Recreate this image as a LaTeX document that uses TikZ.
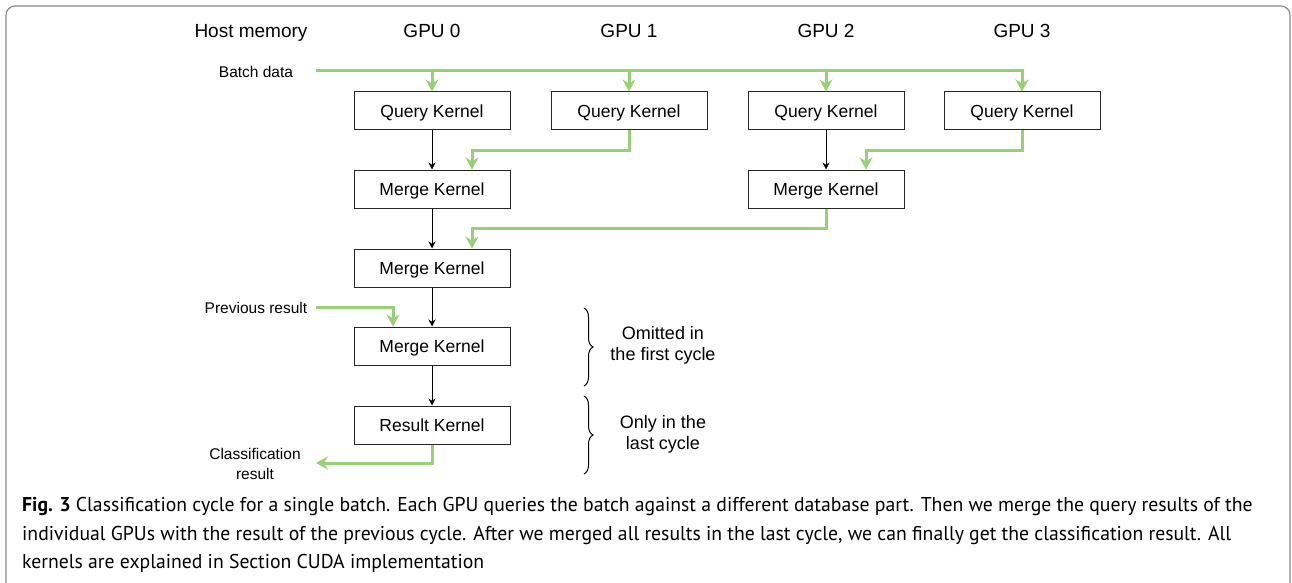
\documentclass[tikz,border=0pt]{standalone}
\usepackage{fontspec}
\setmainfont{Liberation Sans}
\newfontfamily\capfont[FakeStretch=0.985]{PT Sans}
\usetikzlibrary{arrows.meta,decorations.pathreplacing,calc}
\definecolor{flow}{HTML}{97D077}
\definecolor{framegray}{HTML}{8A8A8A}
\tikzset{
  kernel/.style={draw=black!85, line width=1pt, minimum width=156pt, minimum height=38pt,
    inner sep=0pt, text height=12.5pt, text depth=0pt, font=\fontsize{17.5}{20}\selectfont},
  head/.style={font=\fontsize{19}{22}\selectfont, inner sep=0pt, text height=13.6pt, text depth=0pt},
  side/.style={font=\fontsize{15.5}{20}\selectfont, inner sep=0pt, align=center},
  note/.style={font=\fontsize{18}{21}\selectfont, inner sep=0pt, align=center},
  garrow/.style={draw=flow, line width=3pt, -{Stealth[length=12pt,width=13pt,inset=4pt]}},
  karrow/.style={draw=black, line width=0.9pt, -{Stealth[length=7pt,width=7pt]}},
  bracket/.style={draw=black, line width=1pt, decorate,
    decoration={brace, amplitude=9pt}},
  capline/.style={anchor=base west, inner sep=0pt, font=\capfont\fontsize{20}{24}\selectfont}
}
\begin{document}
\begin{tikzpicture}[x=1pt,y=-1pt]
\useasboundingbox (0,0) rectangle (1292,583);
\begin{scope}
  \clip (0,0) rectangle (1292,583);
  \draw[framegray, line width=1.2pt, rounded corners=9pt] (6,6) rectangle (1290,600);
\end{scope}

% column headers
\node[head] (hhost) at (251,31) {Host memory};
\node[head] (hg0) at (432,31) {GPU 0};
\node[head] (hg1) at (629,31) {GPU 1};
\node[head] (hg2) at (826,31) {GPU 2};
\node[head] (hg3) at (1022,31) {GPU 3};

% kernels
\node[kernel] (q0) at (432,111) {Query Kernel};
\node[kernel] (q1) at (629,111) {Query Kernel};
\node[kernel] (q2) at (826,111) {Query Kernel};
\node[kernel] (q3) at (1022,111) {Query Kernel};
\node[kernel] (m0) at (432,189) {Merge Kernel};
\node[kernel] (m2) at (826,189) {Merge Kernel};
\node[kernel] (mall) at (432,268) {Merge Kernel};
\node[kernel] (mprev) at (432,346) {Merge Kernel};
\node[kernel] (res) at (432,425) {Result Kernel};

% host side labels
\node[side] (batch) at (256,72) {Batch data};
\node[side] (prev) at (256,308) {Previous result};
\node[side] (cls) at (255,464) {Classification\\result};
\coordinate (bstart) at (316,71);
\coordinate (pstart) at (316,307);
\coordinate (cend) at (316,463);

% batch distribution
\draw[garrow] (bstart) -| (q3.north);
\draw[garrow] (q0.north |- bstart) -- (q0.north);
\draw[garrow] (q1.north |- bstart) -- (q1.north);
\draw[garrow] (q2.north |- bstart) -- (q2.north);

% partial results between GPUs
\draw[garrow] (q1.south) -- ++(0,20) -| ([xshift=40pt]m0.north);
\draw[garrow] (q3.south) -- ++(0,20) -| ([xshift=40pt]m2.north);
\draw[garrow] (m2.south) -- ++(0,20) -| ([xshift=40pt]mall.north);
\draw[garrow] (pstart) -| ([xshift=-39pt]mprev.north);
\draw[garrow] (res.south) |- (cend);

% local flow on GPU 0 / GPU 2
\draw[karrow] (q0) -- (m0);
\draw[karrow] (q2) -- (m2);
\draw[karrow] (m0) -- (mall);
\draw[karrow] (mall) -- (mprev);
\draw[karrow] (mprev) -- (res);

% braces
\draw[bracket] (584,308) -- (584,386);
\draw[bracket] (584,396) -- (584,474);
\node[note] (n1) at (663,345) {Omitted in\\the first cycle};
\node[note] (n2) at (663,434) {Only in the\\last cycle};

% caption
\node[capline] (c1) at (22,511) {\textbf{Fig. 3} Classification cycle for a single batch. Each GPU queries the batch against a different database part. Then we merge the query results of the};
\node[capline] (c2) at (22,540) {individual GPUs with the result of the previous cycle. After we merged all results in the last cycle, we can finally get the classification result. All};
\node[capline] (c3) at (22,568) {kernels are explained in Section CUDA implementation};
\end{tikzpicture}
\end{document}
